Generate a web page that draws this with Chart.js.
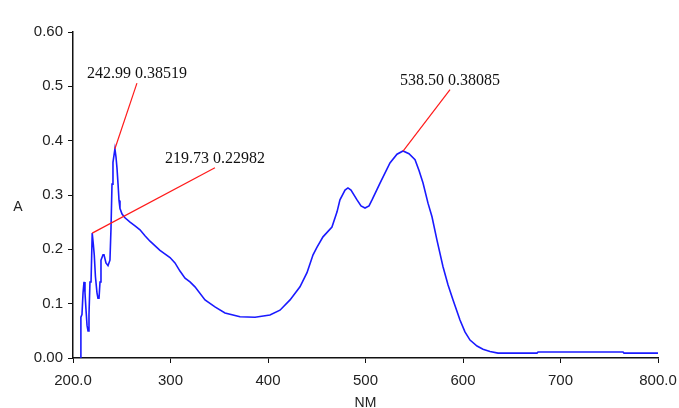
<!DOCTYPE html>
<html>
<head>
<meta charset="utf-8">
<script src="https://cdn.jsdelivr.net/npm/chart.js@4/dist/chart.umd.min.js"></script>
<style>
  html, body { margin: 0; padding: 0; background: #fff; overflow: hidden; }
  canvas { display: block; }
</style>
</head>
<body>
<canvas id="chart" width="679" height="408"></canvas>
<script>
// spectrum
const wavelengths = [208, 208.1, 209.2, 210.3, 211.3, 212.3, 213.3, 214.4, 215.4, 216.4, 217.4, 218.5, 219.7, 220.8, 221.8, 223, 224.6, 225.6, 226.7, 227.7, 228.7, 230.8, 231.8, 233.8, 235.9, 237.9, 239, 240, 241, 243, 244.1, 245.1, 246.2, 247.2, 248.2, 250.3, 253.3, 258.5, 263.6, 268.7, 273.8, 279, 289.2, 299.5, 304.6, 309.7, 314.9, 320, 325.1, 335.4, 345.6, 355.9, 371.3, 386.7, 402, 412.3, 422.6, 432.8, 440, 446.2, 450.3, 456.4, 465.6, 470.8, 473.8, 479, 482, 485.1, 491.3, 495.4, 499.5, 503.6, 506.7, 514.9, 525.1, 532.3, 538.5, 544.6, 550.8, 554.9, 559, 564.1, 568.2, 573.3, 579.5, 584.6, 589.7, 596.9, 602, 607.2, 614.4, 620.5, 627.7, 635.9, 675.9, 677, 764.1, 765.1, 800];
const absorbance = [0, 0.075, 0.08, 0.12, 0.14, 0.12, 0.09, 0.06, 0.05, 0.08, 0.14, 0.14, 0.23, 0.21, 0.19, 0.15, 0.12, 0.11, 0.11, 0.14, 0.18, 0.19, 0.19, 0.175, 0.17, 0.18, 0.24, 0.32, 0.36, 0.385, 0.37, 0.35, 0.32, 0.29, 0.275, 0.265, 0.258, 0.25, 0.243, 0.236, 0.225, 0.215, 0.198, 0.185, 0.175, 0.16, 0.147, 0.14, 0.131, 0.107, 0.094, 0.083, 0.076, 0.075, 0.079, 0.088, 0.107, 0.131, 0.157, 0.19, 0.204, 0.223, 0.241, 0.269, 0.291, 0.309, 0.313, 0.309, 0.291, 0.28, 0.276, 0.28, 0.291, 0.322, 0.359, 0.375, 0.381, 0.376, 0.365, 0.345, 0.322, 0.285, 0.26, 0.217, 0.168, 0.135, 0.107, 0.07, 0.048, 0.033, 0.022, 0.016, 0.012, 0.009, 0.009, 0.011, 0.011, 0.009, 0.009];

// peak picks: label, peak point, end of the leader line (data units)
const peakLabels = ['242.99 0.38519', '219.73 0.22982', '538.50 0.38085'];
const peakX = [242.99, 219.73, 538.5];
const peakY = [0.38519, 0.22982, 0.38085];
const leaderX = [265.6, 345.6, 586.7];
const leaderY = [0.506, 0.35, 0.494];

const yTickLabels = ['0.00', '0.1', '0.2', '0.3', '0.4', '0.5', '0.60'];
const xTickLabels = { 200: '200.0', 800: '800.0' };

const points = wavelengths.map((w, i) => ({ x: w, y: absorbance[i] }));

const peakPlugin = {
  id: 'peaks',
  afterDatasetsDraw(chart) {
    const { ctx, scales } = chart;
    const xs = scales.x, ys = scales.y;
    ctx.save();
    peakLabels.forEach((txt, i) => {
      const x0 = xs.getPixelForValue(peakX[i]);
      const y0 = ys.getPixelForValue(peakY[i]);
      const x1 = xs.getPixelForValue(leaderX[i]);
      const y1 = ys.getPixelForValue(leaderY[i]);
      ctx.strokeStyle = '#ff1a1a';
      ctx.lineWidth = 1.2;
      ctx.beginPath();
      ctx.moveTo(x0, y0);
      ctx.lineTo(x1, y1);
      ctx.stroke();
      ctx.fillStyle = '#111';
      ctx.font = '16px "Liberation Serif", serif';
      ctx.textAlign = 'center';
      ctx.textBaseline = 'bottom';
      ctx.fillText(txt, x1, y1 - 1);
    });
    // axis titles
    ctx.fillStyle = '#222';
    ctx.font = '14px "Liberation Sans", Arial, sans-serif';
    ctx.textAlign = 'center';
    ctx.textBaseline = 'middle';
    ctx.fillText('A', 18, 207);
    ctx.textBaseline = 'top';
    ctx.fillText('NM', (xs.left + xs.right) / 2, 396);
    ctx.restore();
  }
};

new Chart(document.getElementById('chart'), {
  type: 'line',
  data: {
    datasets: [
      {
        data: points,
        borderColor: '#1a1aff',
        borderWidth: 1.6,
        pointRadius: 0,
        tension: 0,
        fill: false,
      },
    ],
  },
  options: {
    responsive: false,
    animation: false,
    layout: { padding: { top: 32, right: 21, left: 0, bottom: 0 } },
    plugins: { legend: { display: false }, tooltip: { enabled: false } },
    scales: {
      x: {
        type: 'linear',
        min: 200,
        max: 800,
        afterFit: s => { s.height = 50; s.paddingLeft = 0; s.paddingRight = 0; },
        border: { display: true, color: '#111', width: 1.5 },
        grid: { display: true, drawOnChartArea: false, drawTicks: true, tickLength: 5, color: '#111' },
        ticks: {
          stepSize: 100,
          padding: 9,
          maxRotation: 0,
          autoSkip: false,
          color: '#222',
          font: { family: 'Liberation Sans', size: 15 },
          callback: v => xTickLabels[v] || String(v),
        },
      },
      y: {
        min: 0,
        max: 0.6,
        afterFit: s => { s.width = 73; s.paddingTop = 0; s.paddingBottom = 0; },
        border: { display: true, color: '#111', width: 1.5 },
        grid: { display: true, drawOnChartArea: false, drawTicks: true, tickLength: 5, color: '#111' },
        ticks: {
          stepSize: 0.1,
          padding: 5,
          autoSkip: false,
          color: '#222',
          font: { family: 'Liberation Sans', size: 15 },
          callback: v => yTickLabels[Math.round(v * 10)],
        },
      },
    },
  },
  plugins: [peakPlugin],
});
</script>
</body>
</html>
